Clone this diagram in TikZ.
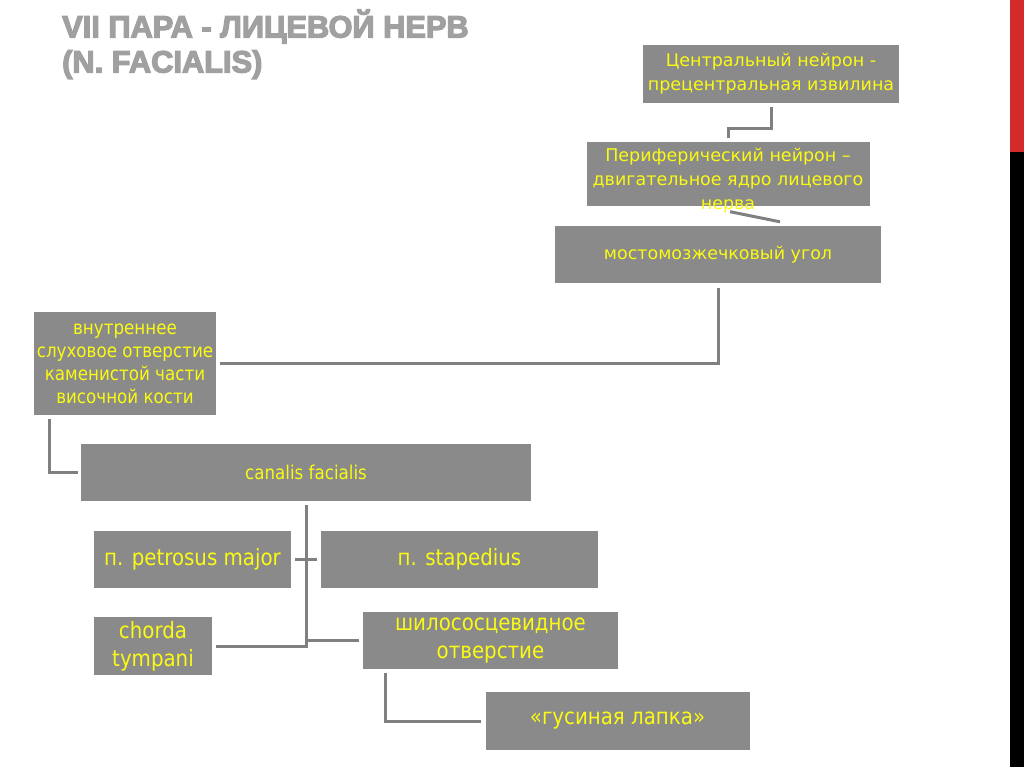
\documentclass[tikz,border=0pt]{standalone}
\usepackage{fontspec}
\setmainfont{DejaVu Sans}
\newfontfamily\condf[FakeStretch=0.88]{DejaVu Sans}
\newfontfamily\titlef[FakeBold=4]{Liberation Sans}
\usetikzlibrary{calc}
\definecolor{boxgray}{RGB}{138,138,138}
\definecolor{ylw}{RGB}{250,250,20}
\definecolor{linegray}{RGB}{128,128,128}
\definecolor{titlegray}{RGB}{160,160,160}
\definecolor{stripered}{RGB}{211,42,44}
\tikzset{
  box/.style={fill=boxgray, draw=none, text=ylw, align=center, inner sep=0pt},
  reg/.style={font={\fontsize{17.5}{24}\selectfont}},
  cnd/.style={font={\condf\fontsize{19}{23}\selectfont}},
  big/.style={font={\condf\fontsize{22.5}{28}\selectfont}},
  conn/.style={draw=linegray, line width=3pt},
  ttl/.style={text=titlegray, inner sep=0pt, font={\titlef\bfseries\fontsize{30.8}{35}\selectfont}},
}
\begin{document}
\begin{tikzpicture}[x=1pt,y=-1pt]
\fill[white] (0,0) rectangle (1024,767);
\useasboundingbox (0,0) rectangle (1024,767);
\fill[stripered] (1010,0) rectangle (1024,152);
\fill[black] (1010,152) rectangle (1024,767);

\node[ttl, anchor=base west] (t1) at (62,37.5) {VII ПАРА - ЛИЦЕВОЙ НЕРВ};
\node[ttl, anchor=base west] (t2) at (62,72.5) {(N. FACIALIS)};

\node[box, reg, minimum width=256pt, minimum height=58pt] (c) at (771,74) {Центральный нейрон -\\прецентральная извилина};
\node[box, minimum width=283pt, minimum height=64pt] (p) at (728,174.5) {};
\node[reg, text=ylw, align=center, inner sep=0pt] (pt) at (728,181) {Периферический нейрон –\\двигательное ядро лицевого\\нерва};
\node[box, reg, minimum width=326pt, minimum height=57pt] (m) at (718,254.5) {мостомозжечковый угол};
\node[box, cnd, minimum width=182pt, minimum height=103pt] (v) at (125,363.5) {внутреннее\\слуховое отверстие\\каменистой части\\височной кости};
\node[box, cnd, minimum width=450pt, minimum height=57pt] (cf) at (306,472.5) {canalis facialis};
\node[box, big, minimum width=197pt, minimum height=57pt] (pm) at (192.5,559.5) {п. petrosus major};
\node[box, big, minimum width=277pt, minimum height=57pt] (st) at (459.5,559.5) {п. stapedius};
\node[box, big, minimum width=118pt, minimum height=58pt] (ch) at (153,646) {chorda\\tympani};
\node[box, big, minimum width=255pt, minimum height=57pt] (sh) at (490.5,640.5) {шилососцевидное\\отверстие};
\node[box, big, minimum width=264pt, minimum height=58pt] (gl) at (617.5,721) {«гусиная лапка»};

\draw[conn] ($(c.south)+(0,4)$) -- ++(0,21) -| ($(p.north)+(0,-4)$);
\draw[conn] ($(p.south)+(2,5)$) -- ($(m.north)+(62,-4)$);
\draw[conn] ($(m.south)+(0,5)$) |- ($(v.east)+(4,0)$);
\draw[conn] ($(v.south west)+(16,4)$) |- ($(cf.west)+(-3,0)$);
\draw[conn] ($(cf.south)+(0,4)$) |- ($(ch.east)+(4,0)$);
\draw[conn] (cf.south |- sh.west) -- ($(sh.west)+(-4,0)$);
\draw[conn] ($(pm.east)+(4,0)$) -- ($(st.west)+(-4,0)$);
\draw[conn] ($(sh.south west)+(23,4)$) |- ($(gl.west)+(-4,0)$);
\end{tikzpicture}
\end{document}
